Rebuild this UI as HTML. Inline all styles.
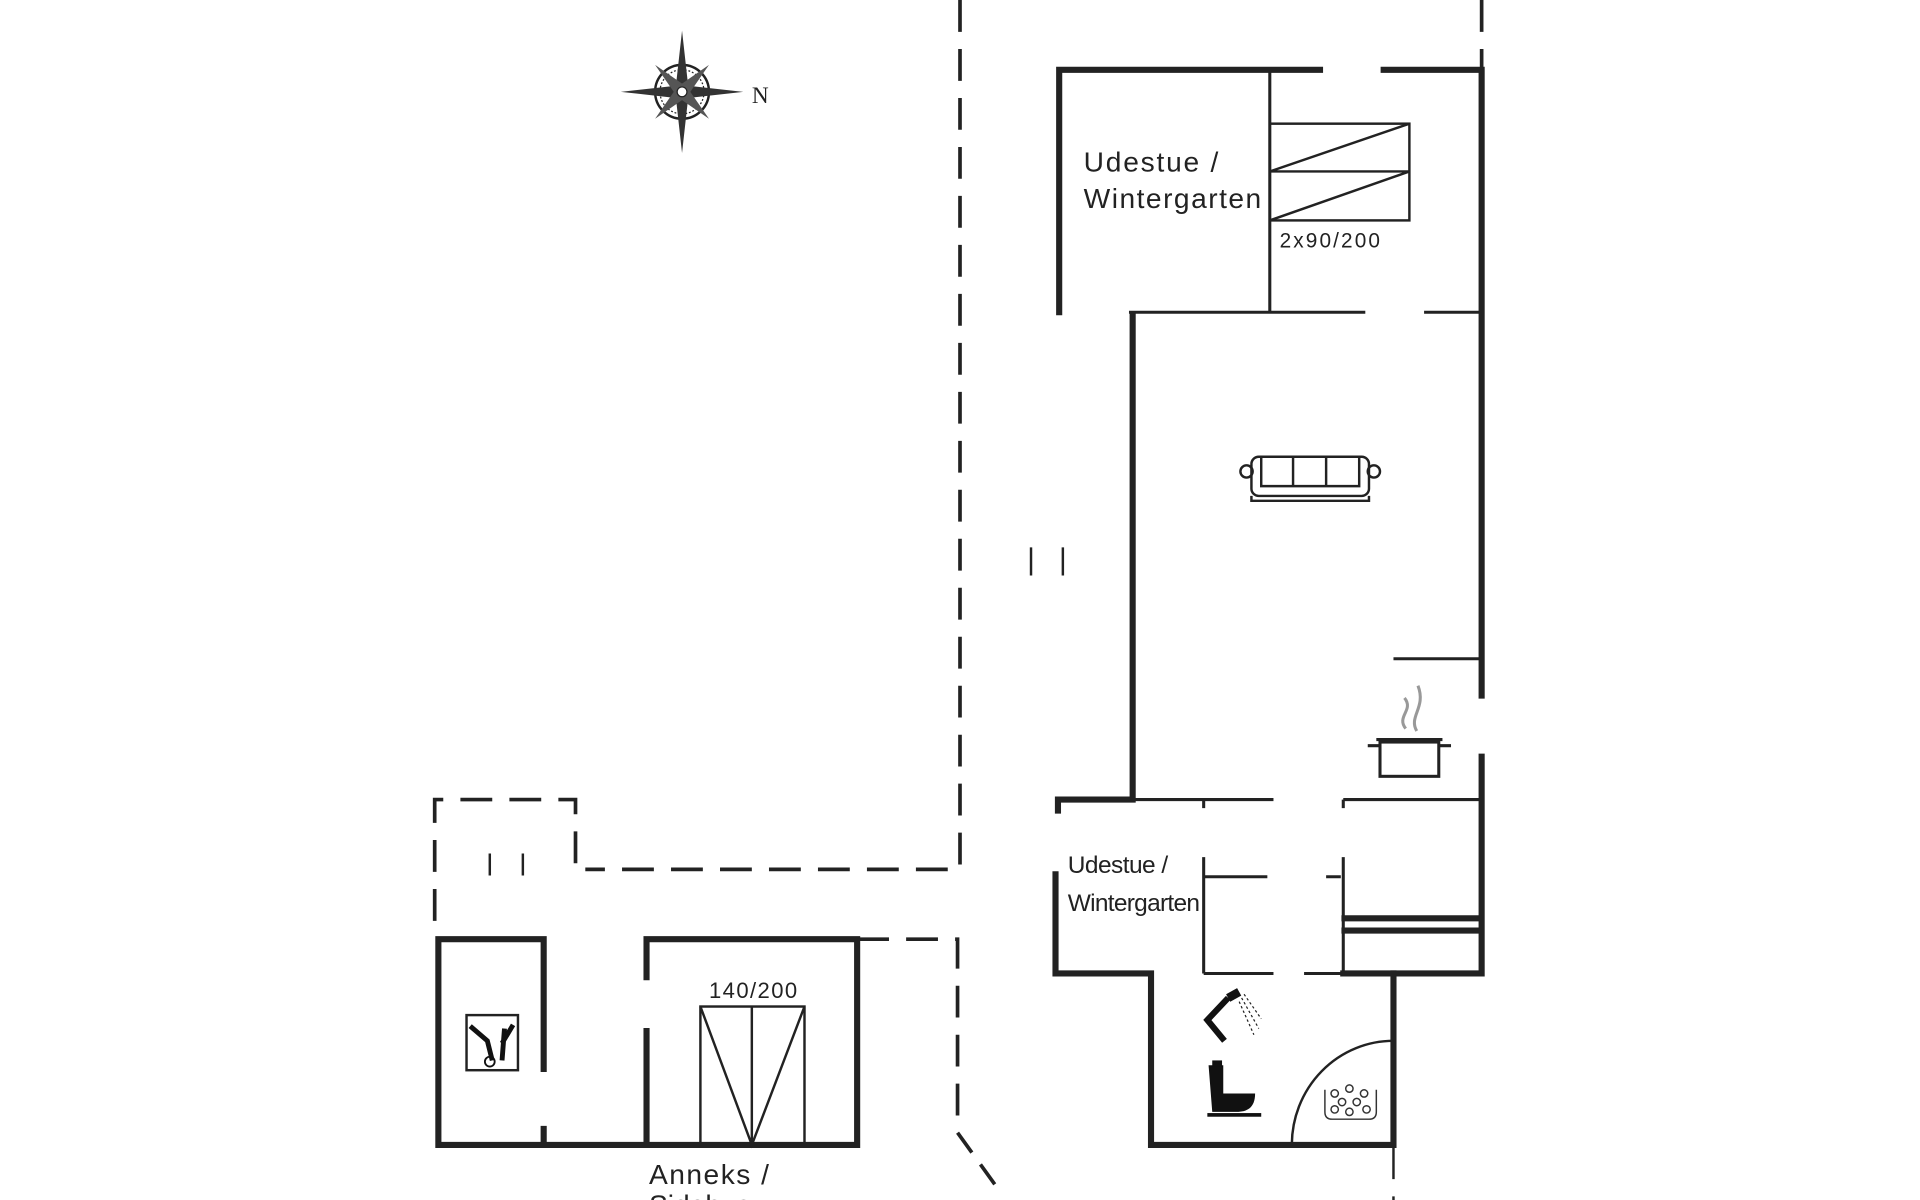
<!DOCTYPE html>
<html><head><meta charset="utf-8"><style>html,body{margin:0;padding:0;background:#fff}svg{display:block}</style></head><body>
<svg width="1920" height="1200" viewBox="0 0 1568 980" preserveAspectRatio="none" xmlns="http://www.w3.org/2000/svg" font-family="Liberation Sans, sans-serif">
<rect width="1568" height="980" fill="#fff"/>
<g stroke="#222" fill="none">
<g stroke-width="3" stroke-dasharray="26,14">
<path d="M784 0 V710 H478"/>
<path d="M470 705 V653 H355 V752"/>
<path d="M1210 0 V55"/>
<path d="M700 767 H782 V920"/>
</g>
<path d="M782 925 L818 975" stroke-width="3" stroke-dasharray="20,12"/>
<path d="M1138 935 V980" stroke-width="2" stroke-dasharray="28,14"/>
<g stroke-width="2"><path d="M400 697 V715 M427 697 V715 M842 447 V470 M868 447 V470"/></g>
<g stroke-width="5" stroke-linecap="square">
<path d="M865 255 V57 H1078"/>
<path d="M1130 57 H1210 V568"/>
<path d="M1210 618 V795"/>
<path d="M925 257 V653 H864 V662"/>
<path d="M862 714 V795 H940 V935 H1138 V795 H1208"/>
<path d="M1097 795 H1138"/>
<path d="M358 767 H444 V873 M444 922 V935 H358 V767"/>
<path d="M528 798 V767 H700 V935 H444 M528 842 V935"/>
<path d="M1098 750 H1208 M1098 760 H1208"/>
</g>
<g stroke-width="2.5">
<path d="M1037 57 V255 M922 255 H1115 M1163 255 H1210"/>
<path d="M1138 538 H1208"/>
<path d="M925 653 H1040 M1097 653 H1208 M983 653 V660 M1097 653 V660"/>
<path d="M983 700 V795 M983 716 H1035 M1083 716 H1095 M1097 700 V795"/>
<path d="M983 795 H1040 M1065 795 H1097"/>
</g>
<g stroke-width="2">
<rect x="1037" y="101" width="114" height="79"/>
<path d="M1037 140 H1151 M1037 140 L1151 101 M1037 180 L1151 140"/>
<rect x="572" y="822" width="85" height="113"/>
<path d="M614 822 V935 M572 822 L614 935 L657 822"/>
<rect x="381" y="829" width="42" height="45"/>
</g>
<path d="M1055 935 A83 85 0 0 1 1138 850" stroke-width="2"/>
<g stroke-width="2">
<rect x="1022" y="373" width="96" height="32" rx="6"/>
<path d="M1030 373 V397 H1110 V373 M1056 373 V397 M1083 373 V397 M1022 405 V409 H1118 V405"/>
<circle cx="1018" cy="385" r="5"/><circle cx="1122" cy="385" r="5"/>
</g>
<g stroke-width="2.5">
<rect x="1127" y="606" width="48" height="28"/>
<path d="M1117 609 H1127 M1175 609 H1185 M1124 604 H1178"/>
<path d="M1148 595 C1140 585 1155 580 1147 570 M1157 597 C1150 585 1165 578 1158 560" stroke="#999"/>
</g>
<path d="M1003 815 L986 833 L1000 850" stroke="#111" stroke-width="5"/>
<path d="M1003 815 L1012 810" stroke="#111" stroke-width="7"/>
<g stroke-width="1" stroke-dasharray="2,2"><path d="M1014 815 L1028 840 M1016 812 L1030 832 M1012 818 L1024 845"/></g>
</g>
<g fill="#111">
<path d="M987 870 H999 V893 H1025 C1025 905 1018 908 1010 908 H990 Z"/>
<rect x="986" y="909" width="44" height="3"/>
<rect x="990" y="866" width="8" height="5"/>
</g>
<path d="M384 838 L398 850 L402 866 M412 840 L410 866 M419 837 L410 852" stroke="#111" stroke-width="4" fill="none"/>
<circle cx="400" cy="867" r="4" fill="none" stroke="#111" stroke-width="1.5"/>
<g fill="none" stroke="#333" stroke-width="1.2">
<path d="M1082 890 V908 Q1082 914 1088 914 H1118 Q1124 914 1124 908 V890"/>
<circle cx="1090" cy="893" r="3"/><circle cx="1102" cy="889" r="3"/><circle cx="1114" cy="893" r="3"/>
<circle cx="1096" cy="900" r="3"/><circle cx="1108" cy="900" r="3"/><circle cx="1090" cy="906" r="3"/><circle cx="1102" cy="908" r="3"/><circle cx="1116" cy="906" r="3"/>
</g>
<g transform="translate(557,75)">
<circle r="22" fill="none" stroke="#222" stroke-width="2"/>
<circle r="18" fill="none" stroke="#222" stroke-width="1" stroke-dasharray="1.5,1.5"/>
<path d="M0 -50 L5 -5 L50 0 L5 5 L0 50 L-5 5 L-50 0 L-5 -5 Z" fill="#333"/>
<path d="M-22 -22 L4 -4 L22 22 L-4 4 Z M22 -22 L4 4 L-22 22 L-4 -4 Z" fill="#555"/>
<circle r="4" fill="#fff" stroke="#222"/>
</g>
<g fill="#222">
<text x="614" y="84" font-family="Liberation Serif, serif" font-size="19">N</text>
<text x="885" y="140" font-size="23" textLength="110">Udestue /</text>
<text x="885" y="170" font-size="23" textLength="145">Wintergarten</text>
<text x="1045" y="202" font-size="17" textLength="82">2x90/200</text>
<text x="872" y="713" font-size="20" textLength="82">Udestue /</text>
<text x="872" y="744" font-size="20" textLength="108">Wintergarten</text>
<text x="579" y="815" font-size="18" textLength="72">140/200</text>
<text x="530" y="967" font-size="23" textLength="98">Anneks /</text>
<text x="530" y="992" font-size="23">Sidehus</text>
</g>
</svg>
</body></html>
